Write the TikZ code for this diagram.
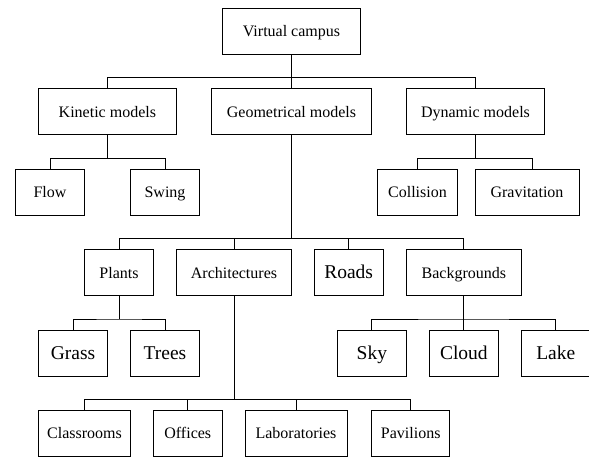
\documentclass[tikz,border=0pt]{standalone}
\usepackage{fontspec}
\setmainfont{Liberation Serif}
\begin{document}
\begin{tikzpicture}[x=1pt,y=-1pt,
  box/.style={draw, line width=0.9pt, inner sep=0pt, minimum height=46pt,
    text height=15.4pt, text depth=4pt,
    font=\fontsize{16}{19}\selectfont},
  big/.style={font=\fontsize{19.5}{23}\selectfont,
    text height=17.5pt, text depth=4.9pt},
  link/.style={line width=0.9pt}]
\useasboundingbox (0,0) rectangle (589,457);

% level 1
\node[box, minimum width=138pt] (root) at (291.5,31.2) {Virtual campus};

% level 2
\node[box, minimum width=138pt] (kin) at (107.4,111.7) {Kinetic models};
\node[box, minimum width=160.7pt] (geo) at (291.5,111.7) {Geometrical models};
\node[box, minimum width=138pt] (dyn) at (475.5,111.7) {Dynamic models};

% level 3: motion models
\node[box, minimum width=69pt] (flow) at (50,192) {Flow};
\node[box, minimum width=68.6pt] (swing) at (165,192) {Swing};
\node[box, minimum width=80.4pt] (coll) at (417.5,192) {Collision};
\node[box, minimum width=104pt] (grav) at (527,192) {Gravitation};

% level 3: geometry
\node[box, minimum width=69pt] (plants) at (119,272.5) {Plants};
\node[box, minimum width=115pt] (arch) at (234,272.5) {Architectures};
\node[box, big, minimum width=68.7pt] (roads) at (348.7,272.5) {Roads};
\node[box, minimum width=115pt] (back) at (463.9,272.5) {Backgrounds};

% level 4: plants and backgrounds
\node[box, big, minimum width=69.5pt] (grass) at (73,353) {Grass};
\node[box, big, minimum width=68.5pt] (trees) at (165,353) {Trees};
\node[box, big, minimum width=69pt] (sky) at (371.9,353) {Sky};
\node[box, big, minimum width=69pt] (cloud) at (463.9,353) {Cloud};
\node[box, big, minimum width=69pt] (lake) at (555.8,353) {Lake};

% level 4: architectures
\node[box, minimum width=92.4pt] (class) at (84.5,433) {Classrooms};
\node[box, minimum width=69.2pt] (off) at (187.8,433) {Offices};
\node[box, minimum width=102pt] (labs) at (296,433) {Laboratories};
\node[box, minimum width=77.8pt] (pav) at (410.7,433) {Pavilions};

% junction points
\coordinate (j0) at (291.5,77.3);
\coordinate (j1) at (107.4,158.3);
\coordinate (j2) at (475.5,158.3);
\coordinate (j3) at (291.5,238.3);
\coordinate (j4) at (119,319);
\coordinate (j5) at (463.9,319);
\coordinate (j6) at (234,399.3);

% connectors
\draw[link] (root.south) -- (geo.north);
\draw[link] (kin.north) |- (j0) -| (dyn.north);

\draw[link] (kin.south) -- (j1);
\draw[link] (flow.north) |- (j1) -| (swing.north);

\draw[link] (dyn.south) -- (j2);
\draw[link] (coll.north) |- (j2) -| ([xshift=5.6pt]grav.north);

\draw[link] (geo.south) -- (j3);
\draw[link] (plants.north) |- (j3) -| (back.north);
\draw[link] (arch.north) -- (arch.north |- j3);
\draw[link] (roads.north) -- (roads.north |- j3);

\draw[link] (plants.south) -- (j4);
\draw[link] (grass.north) |- (j4) -| (trees.north);

\draw[link] (back.south) -- (cloud.north);
\draw[link] (sky.north) |- (j5) -| (lake.north);

\draw[link] (arch.south) -- (j6);
\draw[link] (class.north) |- (j6) -| (pav.north);
\draw[link] (off.north) -- (off.north |- j6);
\draw[link] (labs.north) -- (labs.north |- j6);
\end{tikzpicture}
\end{document}
